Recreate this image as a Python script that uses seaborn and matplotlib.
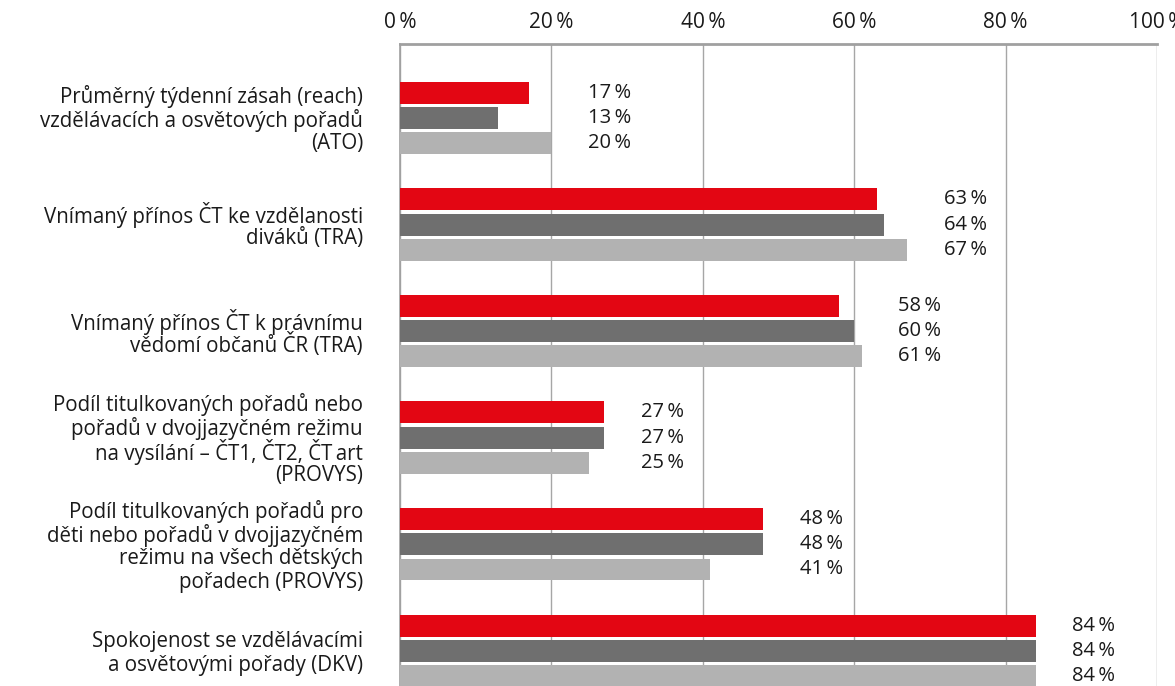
import matplotlib
matplotlib.use('Agg')
import matplotlib.pyplot as plt
import matplotlib.transforms as mtransforms
import seaborn as sns
import pandas as pd

categories = [
    'Průměrný týdenní zásah (reach)\nvzdělávacích a osvětových pořadů\n(ATO)',
    'Vnímaný přínos ČT ke vzdělanosti\ndiváků (TRA)',
    'Vnímaný přínos ČT k právnímu\nvědomí občanů ČR (TRA)',
    'Podíl titulkovaných pořadů nebo\npořadů v dvojjazyčném režimu\nna vysílání – ČT1, ČT2, ČT\u2009art\n(PROVYS)',
    'Podíl titulkovaných pořadů pro\nděti nebo pořadů v dvojjazyčném\nrežimu na všech dětských\npořadech (PROVYS)',
    'Spokojenost se vzdělávacími\na osvětovými pořady (DKV)',
]
series_names = ['řada 1', 'řada 2', 'řada 3']
values_red = [17, 63, 58, 27, 48, 84]
values_dark = [13, 64, 60, 27, 48, 84]
values_light = [20, 67, 61, 25, 41, 84]
x_ticks = [0, 20, 40, 60, 80, 100]

colors = ['#e30613', '#6f6f6f', '#b2b2b2']

rows = []
for name, vals in zip(series_names, [values_red, values_dark, values_light]):
    for cat, v in zip(categories, vals):
        rows.append({'kategorie': cat, 'serie': name, 'hodnota': v})
df = pd.DataFrame(rows)

sns.set_style('white')
plt.rcParams['font.family'] = ['Open Sans', 'DejaVu Sans']
plt.rcParams['text.color'] = '#1a1a1a'

fig = plt.figure(figsize=(11.75, 6.86), dpi=100)
ax = fig.add_axes([400/1175, 0.0, 757/1175, 1 - 44/686])

sns.barplot(data=df, y='kategorie', x='hodnota', hue='serie', orient='h',
            palette=colors, width=0.71, gap=0.13, saturation=1,
            linewidth=0, edgecolor='none',
            legend=False, ax=ax, zorder=3)

ax.set_xlim(0, 100)
ax.set_ylim(5.33, -0.694)
ax.set_xticks(x_ticks, labels=[f'{t}\u2009%' for t in x_ticks])
ax.xaxis.tick_top()
ax.tick_params(axis='x', length=0, pad=8, labelsize=15, labelcolor='#1a1a1a')
ax.tick_params(axis='y', length=0, labelleft=False)
ax.set_xlabel('')
ax.set_ylabel('')

# category labels, one text per line so accents don't stretch the spacing
line_px = 23.5
for i, cat in enumerate(categories):
    lines = cat.split('\n')
    n = len(lines)
    for k, line in enumerate(lines):
        dy = -(k - (n - 1) / 2) * line_px / 100
        tr = ax.get_yaxis_transform() + mtransforms.ScaledTranslation(-37 / 100, dy, fig.dpi_scale_trans)
        ax.text(0, i, line, transform=tr, ha='right', va='center_baseline',
                fontsize=14.8, color='#1a1a1a')

ax.grid(axis='x', color='#a6a6a6', linewidth=1, zorder=0)
ax.set_axisbelow(True)
for side in ['right', 'bottom']:
    ax.spines[side].set_visible(False)
ax.spines['top'].set_color('#a0a0a0')
ax.spines['top'].set_linewidth(2)
ax.spines['left'].set_color('#a0a0a0')
ax.spines['left'].set_linewidth(1.2)

group_max = [max(a, b, c) for a, b, c in zip(values_red, values_dark, values_light)]
for cont, vals in zip(ax.containers, [values_red, values_dark, values_light]):
    for i, bar in enumerate(cont):
        yc = bar.get_y() + bar.get_height() / 2
        ax.text(group_max[i] + 10.5, yc, f'{vals[i]}\u2009%', ha='right', va='center',
                fontsize=14.5, color='#1a1a1a')

fig.savefig('out.png', dpi=100)
